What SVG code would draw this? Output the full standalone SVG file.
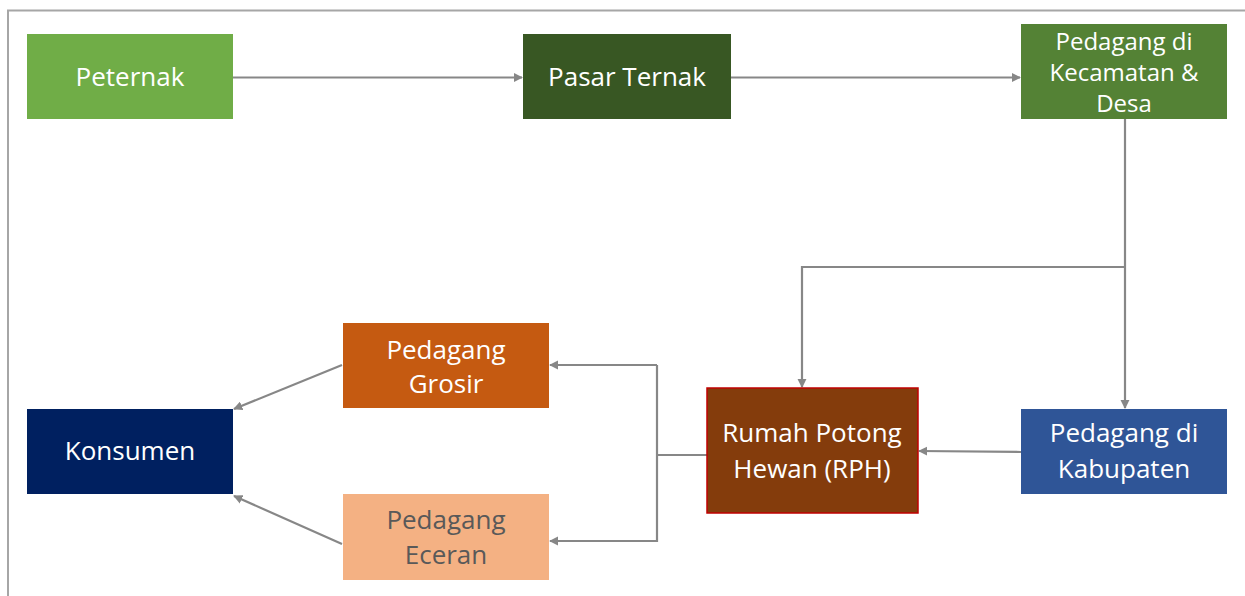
<svg xmlns="http://www.w3.org/2000/svg" width="1245" height="596" viewBox="0 0 1245 596">
<style>
.box{stroke:none}
.t{font-family:"Open Sans","Noto Sans","Liberation Sans",sans-serif;font-size:26px;fill:#FFFFFF;text-anchor:middle}
.t24{font-size:24px}
.dark{fill:#595959}
.c{fill:none;stroke:#878787;stroke-width:2.2}
.a{marker-end:url(#ah)}
</style>
<defs>
<marker id="ah" viewBox="0 0 10 10" refX="9" refY="5" markerWidth="4.2" markerHeight="4.2" orient="auto" markerUnits="strokeWidth">
<path d="M0,0 L10,5 L0,10 z" fill="#878787"/>
</marker>
</defs>
<rect x="0" y="0" width="1245" height="596" fill="#FFFFFF"/>
<g id="frame">
<path d="M8,596 V10.5 H1245" fill="none" stroke="#A6A6A6" stroke-width="2"/>
</g>
<g id="connectors">
<path class="c a" d="M233,77.5 H522"/>
<path class="c a" d="M731,77.5 H1020"/>
<path class="c a" d="M1125,119 V408"/>
<path class="c a" d="M1125,267 H802 V387"/>
<path class="c a" d="M1021,452 L919,451"/>
<path class="c" d="M707,455 H657"/>
<path class="c a" d="M657,365 V541 H550"/>
<path class="c a" d="M657,365 H550"/>
<path class="c a" d="M342,365 L234,409"/>
<path class="c a" d="M342,544 L234,496"/>
</g>
<g id="peternak">
<rect class="box" x="27" y="34" width="206" height="85" fill="#70AD47"/>
<text class="t" x="130" y="86">Peternak</text>
</g>
<g id="pasar-ternak">
<rect class="box" x="523" y="34" width="208" height="85" fill="#385723"/>
<text class="t" x="627" y="86">Pasar Ternak</text>
</g>
<g id="pedagang-kecamatan">
<rect class="box" x="1021" y="24" width="206" height="95" fill="#548235"/>
<text class="t t24" x="1124" y="50">Pedagang di</text>
<text class="t t24" x="1124" y="81">Kecamatan &amp;</text>
<text class="t t24" x="1124" y="112">Desa</text>
</g>
<g id="pedagang-kabupaten">
<rect class="box" x="1021" y="409" width="206" height="85" fill="#2F5597"/>
<text class="t" x="1124" y="442">Pedagang di</text>
<text class="t" x="1124" y="478">Kabupaten</text>
</g>
<g id="rph">
<rect x="707" y="388" width="211" height="125" fill="#843C0C" stroke="#C00000" stroke-width="1.5"/>
<text class="t" x="812" y="442">Rumah Potong</text>
<text class="t" x="812" y="478">Hewan (RPH)</text>
</g>
<g id="pedagang-grosir">
<rect class="box" x="343" y="323" width="206" height="85" fill="#C55A11"/>
<text class="t" x="446" y="359">Pedagang</text>
<text class="t" x="446" y="393">Grosir</text>
</g>
<g id="pedagang-eceran">
<rect class="box" x="343" y="494" width="206" height="86" fill="#F4B183"/>
<text class="t dark" x="446" y="529">Pedagang</text>
<text class="t dark" x="446" y="564">Eceran</text>
</g>
<g id="konsumen">
<rect class="box" x="27" y="409" width="206" height="85" fill="#002060"/>
<text class="t" x="130" y="460">Konsumen</text>
</g>
</svg>
